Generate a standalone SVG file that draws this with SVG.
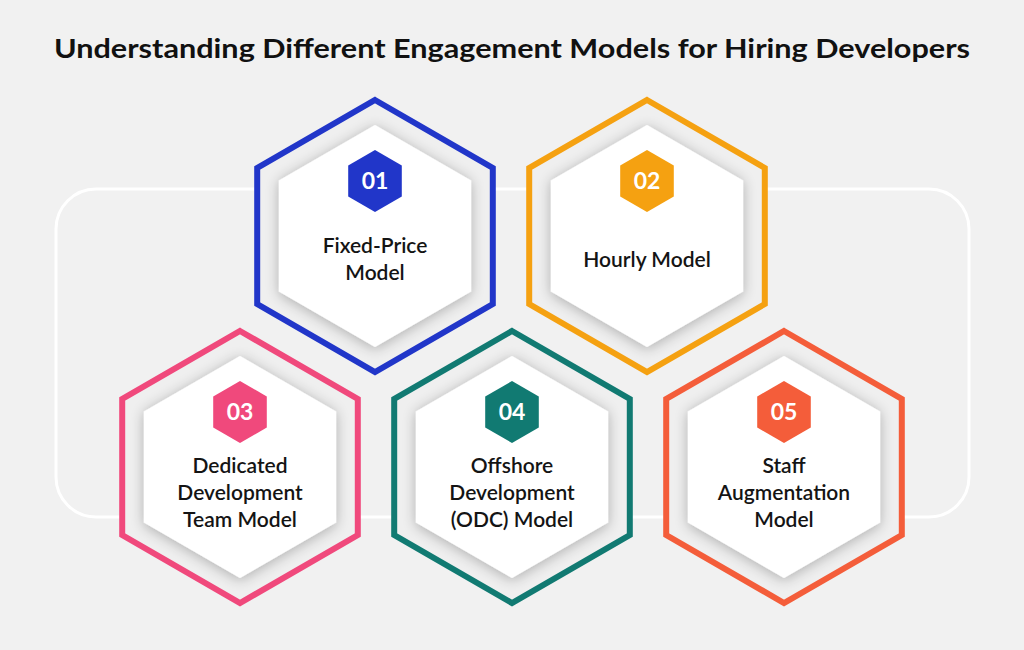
<svg xmlns="http://www.w3.org/2000/svg" xmlns:xlink="http://www.w3.org/1999/xlink" width="1024" height="650" viewBox="0 0 1024 650">
<style>
.title{font-family:"Lato","Liberation Sans",sans-serif;font-weight:700;font-size:27px;fill:#111;text-anchor:middle}
.lbl{font-family:"Lato","Liberation Sans",sans-serif;font-weight:600;font-size:21px;fill:#141414;text-anchor:middle}
.num{font-family:"Lato","Liberation Sans",sans-serif;font-weight:700;font-size:23px;fill:#fff;text-anchor:middle}
.outer{fill:#efefef;stroke-width:6;stroke-linejoin:miter}
.inner{fill:#fff;filter:url(#sh)}
</style>
<defs>
<filter id="sh" x="-30%" y="-30%" width="160%" height="160%">
<feGaussianBlur in="SourceAlpha" stdDeviation="7"/>
<feOffset dx="0" dy="2" result="b"/>
<feComponentTransfer><feFuncA type="linear" slope="0.28"/></feComponentTransfer>
<feMerge><feMergeNode/><feMergeNode in="SourceGraphic"/></feMerge>
</filter>
<path id="hO" d="M0,-136 L117.8,-68 L117.8,68 L0,136 L-117.8,68 L-117.8,-68 Z"/>
<path id="hI" d="M0,-111 L96.1,-55.5 L96.1,55.5 L0,111 L-96.1,55.5 L-96.1,-55.5 Z"/>
<path id="hB" d="M0,-31 L26.8,-15.5 L26.8,15.5 L0,31 L-26.8,15.5 L-26.8,-15.5 Z"/>
</defs>
<rect width="1024" height="650" fill="#f1f1f1"/>
<text class="title" x="512" y="58" textLength="916" lengthAdjust="spacingAndGlyphs">Understanding Different Engagement Models for Hiring Developers</text>
<rect x="56" y="189" width="913" height="328" rx="40" ry="40" fill="none" stroke="#ffffff" stroke-width="3"/>
<g id="connectors"></g>
<g id="node-01" transform="translate(375,236)">
<use xlink:href="#hO" class="outer" stroke="#2136c9"/>
<use xlink:href="#hI" class="inner"/>
<use xlink:href="#hB" fill="#2136c9" transform="translate(0,-55)"/>
<text class="num" x="0" y="-47">01</text>
<text class="lbl" x="0" y="17">Fixed-Price</text>
<text class="lbl" x="0" y="44">Model</text>
</g>
<g id="node-02" transform="translate(647,236)">
<use xlink:href="#hO" class="outer" stroke="#f5a111"/>
<use xlink:href="#hI" class="inner"/>
<use xlink:href="#hB" fill="#f5a111" transform="translate(0,-55)"/>
<text class="num" x="0" y="-47">02</text>
<text class="lbl" x="0" y="31">Hourly Model</text>
</g>
<g id="node-03" transform="translate(240,467)">
<use xlink:href="#hO" class="outer" stroke="#f0497c"/>
<use xlink:href="#hI" class="inner"/>
<use xlink:href="#hB" fill="#f0497c" transform="translate(0,-55)"/>
<text class="num" x="0" y="-47">03</text>
<text class="lbl" x="0" y="6">Dedicated</text>
<text class="lbl" x="0" y="33">Development</text>
<text class="lbl" x="0" y="60">Team Model</text>
</g>
<g id="node-04" transform="translate(512,467)">
<use xlink:href="#hO" class="outer" stroke="#117a72"/>
<use xlink:href="#hI" class="inner"/>
<use xlink:href="#hB" fill="#117a72" transform="translate(0,-55)"/>
<text class="num" x="0" y="-47">04</text>
<text class="lbl" x="0" y="6">Offshore</text>
<text class="lbl" x="0" y="33">Development</text>
<text class="lbl" x="0" y="60">(ODC) Model</text>
</g>
<g id="node-05" transform="translate(784,467)">
<use xlink:href="#hO" class="outer" stroke="#f45d3a"/>
<use xlink:href="#hI" class="inner"/>
<use xlink:href="#hB" fill="#f45d3a" transform="translate(0,-55)"/>
<text class="num" x="0" y="-47">05</text>
<text class="lbl" x="0" y="6">Staff</text>
<text class="lbl" x="0" y="33">Augmentation</text>
<text class="lbl" x="0" y="60">Model</text>
</g>
</svg>
